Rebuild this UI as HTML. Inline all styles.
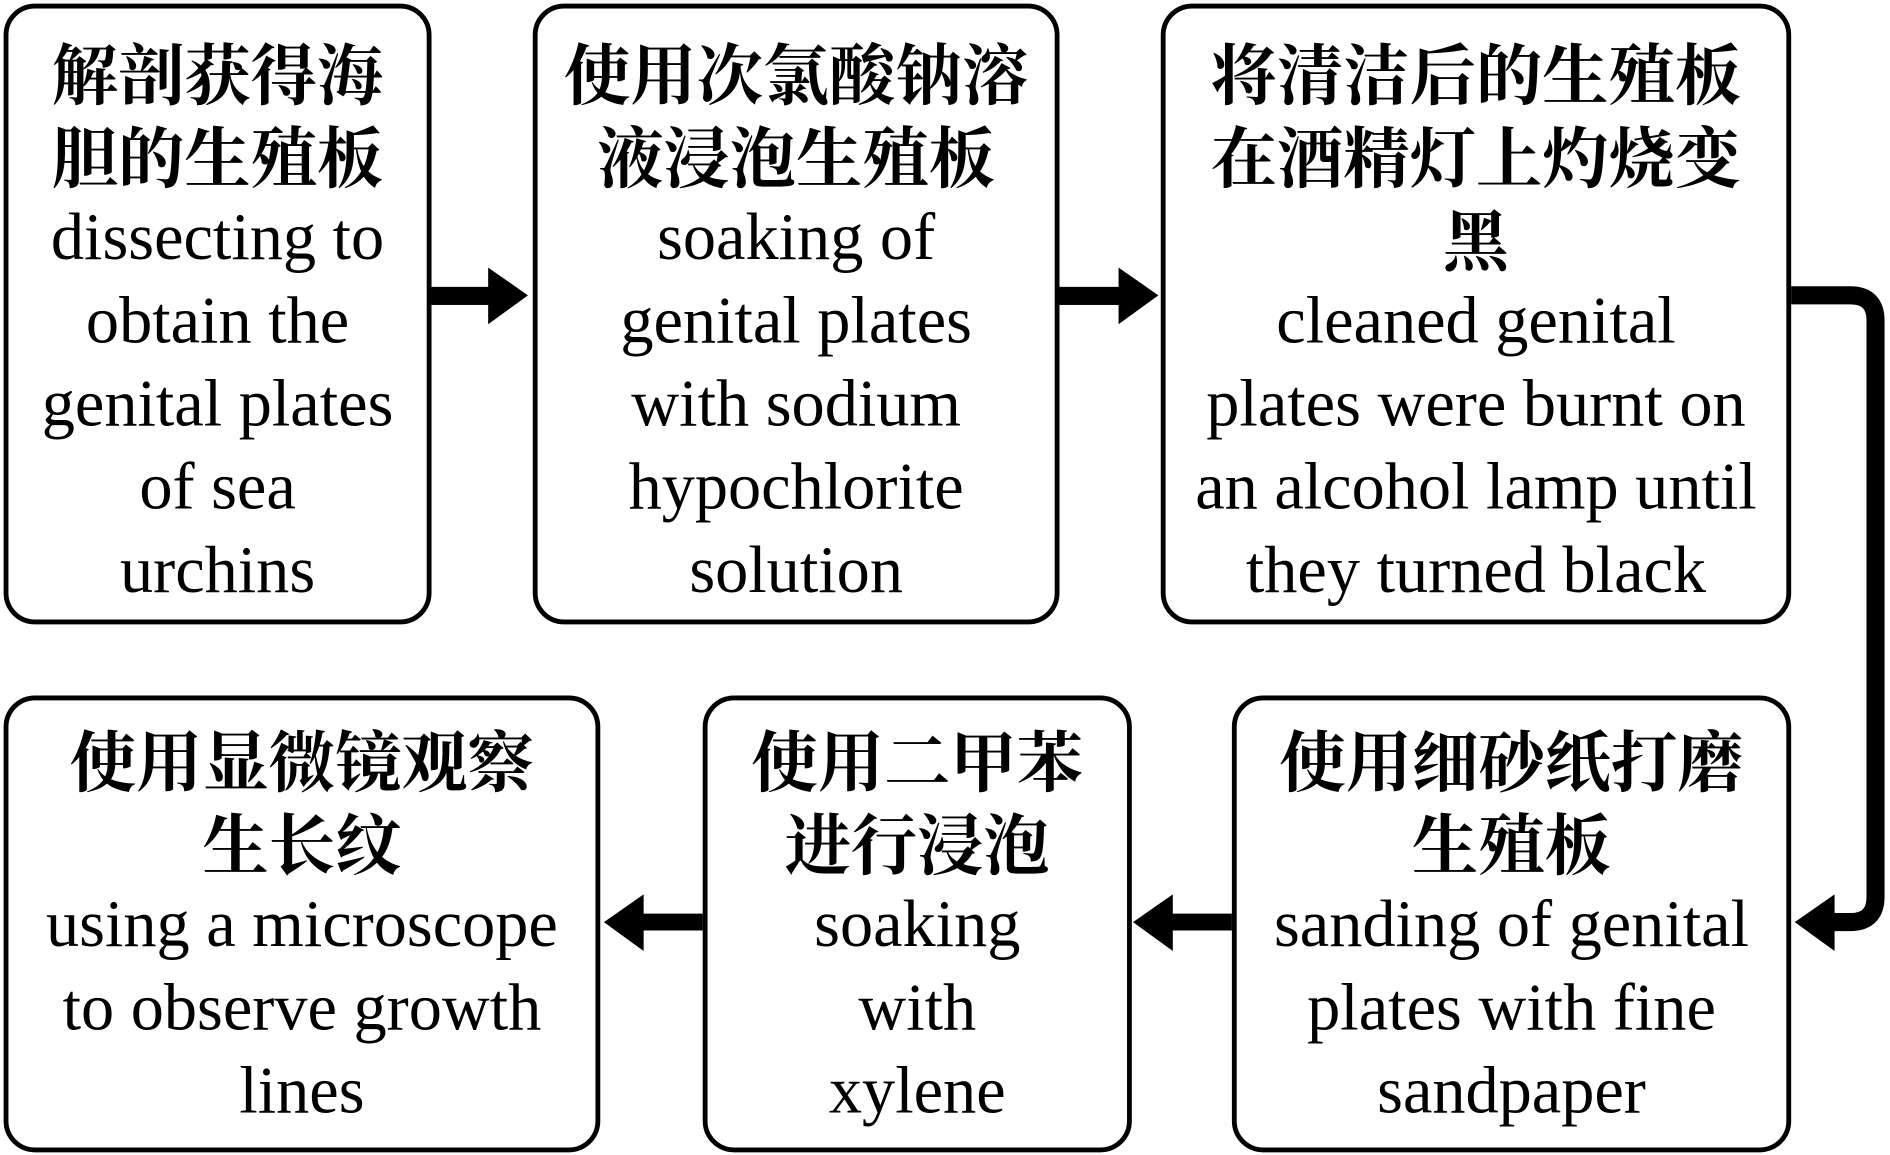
<!DOCTYPE html>
<html><head><meta charset="utf-8"><style>
html,body{margin:0;padding:0;background:#fff;width:1890px;height:1155px;overflow:hidden}
#c{position:absolute;left:0;top:0;width:1568px;height:958px;transform:scale(1.20536);transform-origin:0 0}
.b{position:absolute;border:4px solid #000;border-radius:26px;box-sizing:border-box}
.t{position:absolute;left:-40px;right:-40px;text-align:center;white-space:nowrap;line-height:69px;color:#000}
.z{font-size:55px;font-weight:bold;font-family:"Noto Serif CJK SC","Noto Sans CJK SC",serif}
.e{font-size:55px;font-family:"Liberation Serif","Times New Roman",serif}
svg{position:absolute;left:0;top:0}
</style></head><body><div id="c">
<div class="b" style="left:3px;top:3px;width:355px;height:515px"><div class="t" style="top:17px"><div class="z">解剖获得海<br>胆的生殖板</div><div class="e">dissecting to<br>obtain the<br>genital plates<br>of sea<br>urchins</div></div></div>
<div class="b" style="left:442px;top:3px;width:437px;height:515px"><div class="t" style="top:17px"><div class="z">使用次氯酸钠溶<br>液浸泡生殖板</div><div class="e">soaking of<br>genital plates<br>with sodium<br>hypochlorite<br>solution</div></div></div>
<div class="b" style="left:963px;top:3px;width:523px;height:515px"><div class="t" style="top:17px"><div class="z">将清洁后的生殖板<br>在酒精灯上灼烧变<br>黑</div><div class="e">cleaned genital<br>plates were burnt on<br>an alcohol lamp until<br>they turned black</div></div></div>
<div class="b" style="left:3px;top:577px;width:495px;height:379px"><div class="t" style="top:13px"><div class="z">使用显微镜观察<br>生长纹</div><div class="e">using a microscope<br>to observe growth<br>lines</div></div></div>
<div class="b" style="left:583px;top:577px;width:356px;height:379px"><div class="t" style="top:13px"><div class="z">使用二甲苯<br>进行浸泡</div><div class="e">soaking<br>with<br>xylene</div></div></div>
<div class="b" style="left:1022px;top:577px;width:464px;height:379px"><div class="t" style="top:13px"><div class="z">使用细砂纸打磨<br>生殖板</div><div class="e">sanding of genital<br>plates with fine<br>sandpaper</div></div></div>
<svg width="1568" height="958" viewBox="0 0 1568 958">
<g fill="#000">
<rect x="358" y="238" width="50" height="15"/><polygon points="405,222 438,245 405,269"/>
<rect x="879" y="238" width="52" height="15"/><polygon points="928,222 961,245 928,269"/>
<polygon points="1022,758 973,758 973,742 940,765 973,789 973,772 1022,772"/>
<polygon points="583,758 534,758 534,742 501,765 534,789 534,772 583,772"/>
<polygon points="1522,742 1489,765 1522,789"/>
</g>
<path d="M1486 245 H1535 Q1556 245 1556 266 V744 Q1556 765 1535 765 H1518" fill="none" stroke="#000" stroke-width="15"/>
</svg>
</div></body></html>
